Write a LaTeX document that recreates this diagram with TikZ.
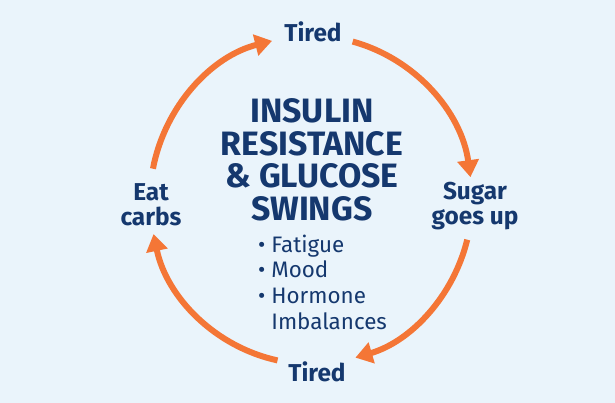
\documentclass[tikz,border=0pt]{standalone}
\usepackage{fontspec}
\setmainfont{Fira Sans}
\usetikzlibrary{arrows.meta,calc}
\definecolor{bgc}{HTML}{EAF4FB}
\definecolor{navy}{HTML}{15386E}
\definecolor{orng}{HTML}{F47636}
\begin{document}
\begin{tikzpicture}[x=1pt,y=1pt,
  lbl/.style={text=navy,align=center,font=\fontsize{24.4}{25.5}\selectfont\bfseries,inner sep=0pt},
  cyc/.style={draw=orng,line width=6pt,-{Triangle[length=17pt,width=21pt]}}]
\fill[bgc] (0,0) rectangle (615,403);
\useasboundingbox (0,0) rectangle (615,403);
\coordinate (c) at (311,203);
\node[text=navy,align=center,font=\fontsize{33.8}{32.5}\selectfont\bfseries,inner sep=0pt] (title) at (312,243) {INSULIN\\RESISTANCE\\\& GLUCOSE\\SWINGS};
\node[text=navy,align=left,anchor=west,font=\fontsize{22.4}{25.7}\selectfont,inner sep=0pt] (list) at (258,121) {• Fatigue\\• Mood\\• Hormone\\\hphantom{• }Imbalances};
\node[lbl] (t1) at (313,371) {Tired};
\node[lbl] (sg) at (475,197) {Sugar\\goes up};
\node[lbl] (t2) at (317,31) {Tired};
\node[lbl] (ec) at (151,198) {Eat\\carbs};
\coordinate (a1) at ($(c)+(169:161 and 164)$);
\coordinate (a2) at ($(c)+(75:161 and 164)$);
\coordinate (a3) at ($(c)+(-14:161 and 164)$);
\coordinate (a4) at ($(c)+(-102:161 and 164)$);
\draw[cyc] (a1) arc[start angle=169,end angle=104,x radius=161,y radius=164];
\draw[cyc] (a2) arc[start angle=75,end angle=8,x radius=161,y radius=164];
\draw[cyc] (a3) arc[start angle=-14,end angle=-74,x radius=161,y radius=164];
\draw[cyc] (a4) arc[start angle=-102,end angle=-168,x radius=161,y radius=164];
\end{tikzpicture}
\end{document}
